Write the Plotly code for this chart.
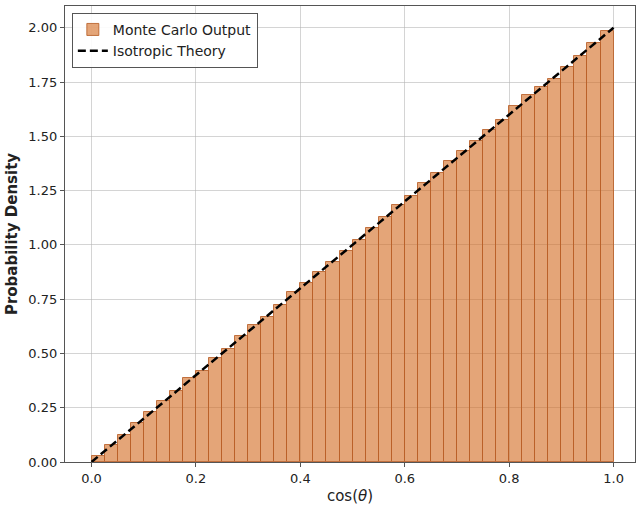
import numpy as np
import plotly.graph_objects as go

# Histogram data: 40 bins on [0, 1]
bin_edges = [i * 0.025 for i in range(41)]
density = [0.028, 0.080, 0.126, 0.179, 0.228, 0.279, 0.329, 0.386,
           0.419, 0.480, 0.519, 0.580, 0.631, 0.670, 0.721, 0.785,
           0.824, 0.876, 0.922, 0.971, 1.022, 1.076, 1.129, 1.184,
           1.226, 1.284, 1.330, 1.384, 1.430, 1.478, 1.530, 1.574,
           1.640, 1.688, 1.729, 1.766, 1.820, 1.872, 1.928, 1.986]
theory_x = [0.0, 1.0]
theory_y = [0.0, 2.0]

x_ticks = [0.0, 0.2, 0.4, 0.6, 0.8, 1.0]
y_ticks = [0.0, 0.25, 0.5, 0.75, 1.0, 1.25, 1.5, 1.75, 2.0]

centers = [(bin_edges[i] + bin_edges[i + 1]) / 2 for i in range(len(density))]
widths = [bin_edges[i + 1] - bin_edges[i] for i in range(len(density))]

fig = go.Figure()
fig.add_trace(go.Bar(
    x=centers, y=density, width=widths,
    name="Monte Carlo Output",
    marker=dict(color="rgba(210,105,30,0.6)",
                line=dict(color="rgba(185,95,40,0.85)", width=1)),
))
fig.add_trace(go.Scatter(
    x=theory_x, y=theory_y, mode="lines", name="Isotropic Theory",
    line=dict(color="black", width=2.5, dash="8px,4px"),
))

axis_common = dict(
    showgrid=True, gridcolor="rgba(176,176,176,0.55)", gridwidth=1,
    showline=True, linecolor="#555", linewidth=1.2, mirror=True,
    ticks="outside", ticklen=4, tickcolor="#555", tickwidth=1,
    tickfont=dict(family="DejaVu Sans", size=13, color="#222"),
    zeroline=False,
)

fig.update_layout(
    width=636, height=505,
    margin=dict(l=65, r=1, t=6, b=43),
    paper_bgcolor="white", plot_bgcolor="white",
    bargap=0,
    font=dict(family="DejaVu Sans", size=13, color="#222"),
    xaxis=dict(range=[-0.0508, 1.041], tickvals=x_ticks,
               ticktext=[f"{v:.1f}" for v in x_ticks],
               title=dict(text="cos(<i>θ</i>)", font=dict(size=15), standoff=5),
               **axis_common),
    yaxis=dict(range=[0, 2.1], tickvals=y_ticks,
               ticktext=[f"{v:.2f}" for v in y_ticks],
               title=dict(text="<b>Probability Density</b>", font=dict(size=15), standoff=7),
               **axis_common),
    legend=dict(x=0.012, y=0.985, xanchor="left", yanchor="top",
                bgcolor="rgba(255,255,255,0.9)", bordercolor="#555", borderwidth=1,
                font=dict(family="DejaVu Sans", size=14, color="#222"),
                tracegroupgap=0),
    showlegend=True,
)

fig.write_html("out.html")
